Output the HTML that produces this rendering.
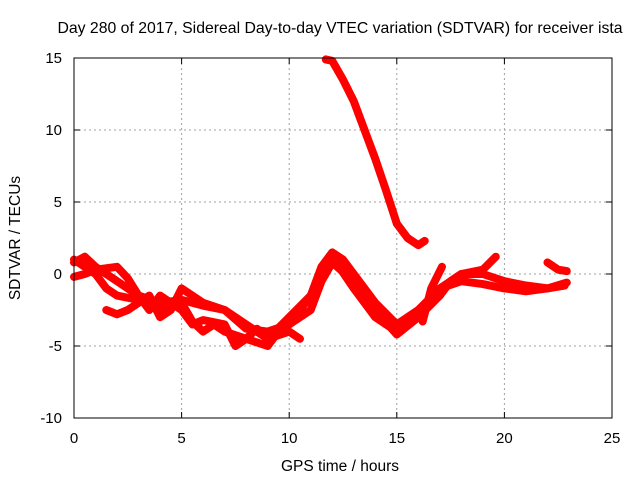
<!DOCTYPE html>
<html><head><meta charset="utf-8"><style>
body{margin:0;background:#fff;}
svg{display:block;font-family:"Liberation Sans",sans-serif;}
</style></head><body>
<svg id="chart" width="640" height="480">
<text x="340" y="33" text-anchor="middle" font-size="15.8">Day 280 of 2017, Sidereal Day-to-day VTEC variation (SDTVAR) for receiver ista</text>
<text x="340" y="471" text-anchor="middle" font-size="15.5">GPS time / hours</text>
<text transform="translate(20,238) rotate(-90)" text-anchor="middle" font-size="15.5">SDTVAR / TECUs</text>
<g id="grid"></g><g id="ticks"></g><g id="series"></g>
<rect x="74" y="58" width="538" height="360" fill="none" stroke="#000" stroke-width="1"/>
</svg>
<script>
const xTicks=[0,5,10,15,20,25];
const yTicks=[-10,-5,0,5,10,15];
const sA_h=[0,0.5,1,1.5,2,3,4,5,6,7,8,9,10,11,11.5,12,12.5,13,14,15,16,17,18,19,20,21,22,22.8];
const sA_v=[0.8,1.2,0.5,0,-0.5,-1.5,-2,-1.8,-2.2,-2.5,-3.5,-4.5,-3,-1.5,0.5,1.5,1,0,-2,-3.5,-2.5,-1,0,0,-0.5,-0.8,-1,-0.8];
const sB_h=[0,0.5,1,2,2.5,3,3.5,4,5,5.5,6,7,7.5,8,9,9.5,10,11,11.5,12,13,14,15,16,17,17.5,18,19,19.6];
const sB_v=[-0.2,0,0.3,0.5,-0.3,-1.5,-2.5,-1.5,-2.5,-3.5,-3.2,-3.5,-5,-4.5,-5,-4,-3.5,-2.5,-0.5,0.8,-0.5,-2.5,-4.2,-3,-1.5,-0.5,0,0.3,1.2];
const sC_h=[0,0.5,1,1.5,2,3,4,5,5.5,6,6.5,7,8,8.5,9,10,10.5];
const sC_v=[1,0.5,0,-1,-1.5,-1.8,-2.5,-2,-3.3,-4,-3.5,-4,-4.5,-3.8,-4.5,-4,-4.5];
const sD_h=[1.5,2,2.5,3,3.5,4,4.5,5,6,7,8,9,10,11,11.5,12,13,14,15,16,16.5,17,18,19,20,21,22,22.9];
const sD_v=[-2.5,-2.8,-2.5,-2,-1.5,-3,-2.5,-1,-2,-2.5,-3.8,-4,-3.5,-1.5,0,1.2,-1,-3,-4,-3,-2,-1,-0.5,-0.7,-1,-1.2,-1,-0.6];
const sE_h=[16.2,16.6,17.1];
const sE_v=[-3.3,-1,0.5];
const sF_h=[22,22.5,22.9];
const sF_v=[0.8,0.3,0.2];
const sG_h=[11.7,12,12.5,13,13.5,14,14.5,15,15.5,16,16.3];
const sG_v=[14.9,14.8,13.5,12,10,8,5.8,3.5,2.5,2,2.3];
const X=h=>74+h*538/25, Y=v=>418-(v+10)*360/25;
const NS="http://www.w3.org/2000/svg";
const grid=document.getElementById('grid'),ticks=document.getElementById('ticks'),ser=document.getElementById('series');
function mk(t,a,p){const e=document.createElementNS(NS,t);for(const k in a)e.setAttribute(k,a[k]);p.appendChild(e);return e;}
xTicks.forEach(t=>{
 if(t>0&&t<25){const g=mk('line',{x1:X(t),x2:X(t),y1:58,y2:418,stroke:'#a0a0a0','stroke-dasharray':'2,3'},grid);
 
 }
 mk('line',{x1:X(t),x2:X(t),y1:418,y2:412,stroke:'#000'},ticks);
 mk('line',{x1:X(t),x2:X(t),y1:58,y2:64,stroke:'#000'},ticks);
 const l=mk('text',{x:X(t),y:443,'text-anchor':'middle','font-size':15},ticks);l.textContent=t;
 
 
});
yTicks.forEach(t=>{
 if(t>-10&&t<15){const g=mk('line',{x1:74,x2:612,y1:Y(t),y2:Y(t),stroke:'#a0a0a0','stroke-dasharray':'2,3'},grid);
 
 }
 mk('line',{x1:74,x2:80,y1:Y(t),y2:Y(t),stroke:'#000'},ticks);
 mk('line',{x1:612,x2:606,y1:Y(t),y2:Y(t),stroke:'#000'},ticks);
 const l=mk('text',{x:62,y:Y(t)+5,'text-anchor':'end','font-size':15},ticks);l.textContent=t;
 
 
});
[[sA_h,sA_v],[sB_h,sB_v],[sC_h,sC_v],[sD_h,sD_v],[sE_h,sE_v],[sF_h,sF_v],[sG_h,sG_v]].forEach((s,i)=>{
 const pts=s[0].map((h,j)=>X(h)+','+Y(s[1][j])).join(' ');
 const p=mk('polyline',{points:pts,fill:'none',stroke:'#ff0000','stroke-width':8,'stroke-linejoin':'round','stroke-linecap':'round'},ser);
 
 
});
</script>
</body></html>
